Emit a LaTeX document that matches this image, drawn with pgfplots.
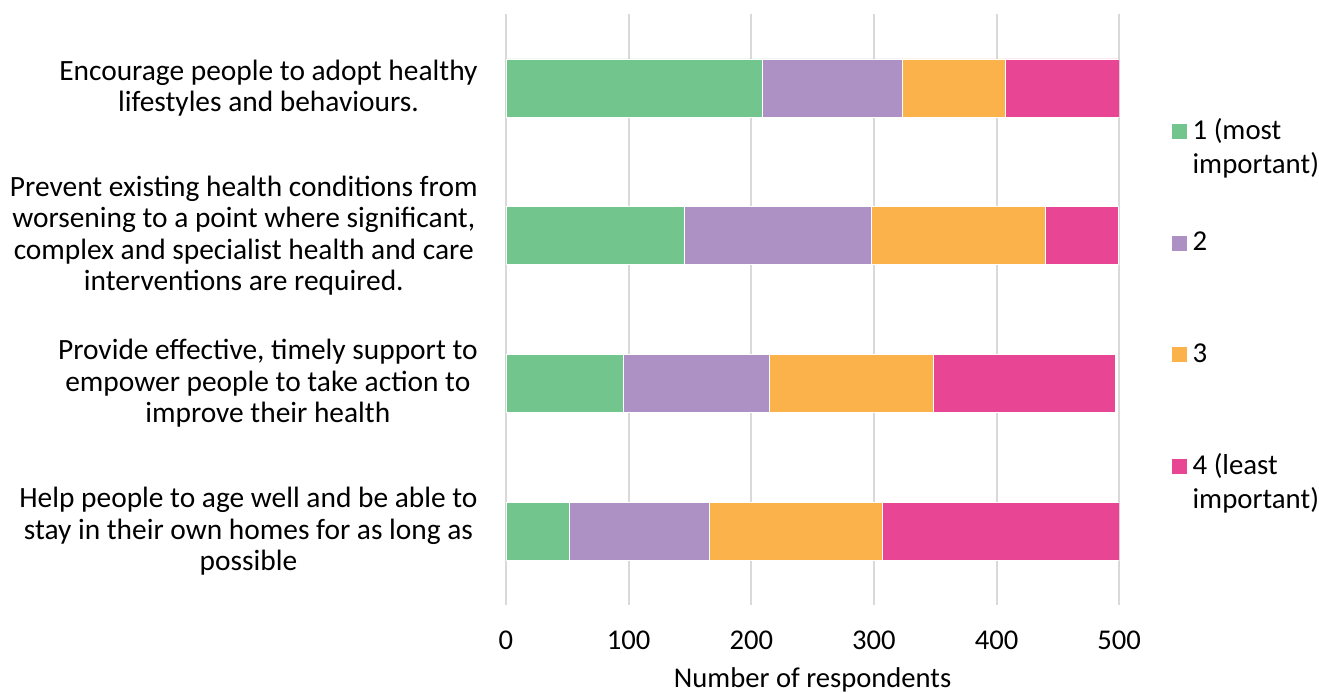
\documentclass[border=0pt]{standalone}
\usepackage{pgfplots}
\pgfplotsset{compat=1.18}
\usepackage{pgfplotstable}
\usepackage{fontspec}
\setmainfont{Carlito}
\definecolor{cg}{HTML}{73C58E}
\definecolor{cp}{HTML}{AD91C4}
\definecolor{co}{HTML}{FBB24A}
\definecolor{ck}{HTML}{E84594}
\definecolor{gridc}{HTML}{D9D9D9}

\pgfplotstableread{
cat g p o k
0 209 114 84 93
1 145 153 142 59
2 96 119 133 149
3 52 114 141 193
}\data

\begin{document}
\begin{tikzpicture}
\begin{axis}[
  scale only axis, width=306.5pt, height=295.5pt,
  xbar stacked, bar width=29pt,
  xmin=0, xmax=500, ymin=-0.5, ymax=3.5, y dir=reverse,
  xtick={0,100,...,500}, ytick={0,1,2,3},
  yticklabels={{Encourage people to adopt healthy\\lifestyles and behaviours.},
    {Prevent existing health conditions from\\worsening to a point where significant,\\complex and specialist health and care\\interventions are required.},
    {Provide effective, timely support to\\empower people to take action to\\improve their health},
    {Help people to age well and be able to\\stay in their own homes for as long as\\possible}},
  major tick length=0pt,
  axis line style={draw=none},
  xmajorgrids, grid style={draw=gridc, line width=1pt},
  font=\fontsize{14.3}{15.5}\selectfont,
  yticklabel style={align=center, anchor=east, inner sep=0pt, xshift=-14pt, font=\fontsize{14.7}{15.75}\selectfont},
  xticklabel style={anchor=base, inner sep=0pt, yshift=-22pt, font=\fontsize{14.3}{15.5}\selectfont},
  /pgf/number format/assume math mode=true,
  xlabel={Number of respondents},
  xlabel style={at={(axis description cs:0.5,0)}, anchor=base, inner sep=0pt, yshift=-41pt, font=\fontsize{14.3}{15.5}\selectfont},
  legend image code/.code={\fill[#1,draw=none] (0pt,0pt) rectangle (7.5pt,7.5pt);},
  legend style={draw=none, fill=none, at={(axis description cs:1.0848,0.830)}, anchor=north west,
    inner sep=0pt, row sep=42.2pt, column sep=3pt, cells={anchor=base west},
    nodes={inner sep=0pt}, font=\fontsize{14.4}{17.3}\selectfont},
]
\addplot[fill=cg, draw=white, line width=0.3pt] table[x=g, y=cat]{\data};
\addlegendentry{\begin{tabular}[t]{@{}l@{}}1 (most\\important)\end{tabular}}
\addplot[fill=cp, draw=white, line width=0.3pt] table[x=p, y=cat]{\data};
\addlegendentry{\begin{tabular}[t]{@{}l@{}}2\end{tabular}}
\addplot[fill=co, draw=white, line width=0.3pt] table[x=o, y=cat]{\data};
\addlegendentry{\begin{tabular}[t]{@{}l@{}}3\end{tabular}}
\addplot[fill=ck, draw=white, line width=0.3pt] table[x=k, y=cat]{\data};
\addlegendentry{\begin{tabular}[t]{@{}l@{}}4 (least\\important)\end{tabular}}
\end{axis}
\path ([yshift=7pt]current axis.north west);
\path ([xshift=-5pt]current axis.outer west);
\end{tikzpicture}
\end{document}
